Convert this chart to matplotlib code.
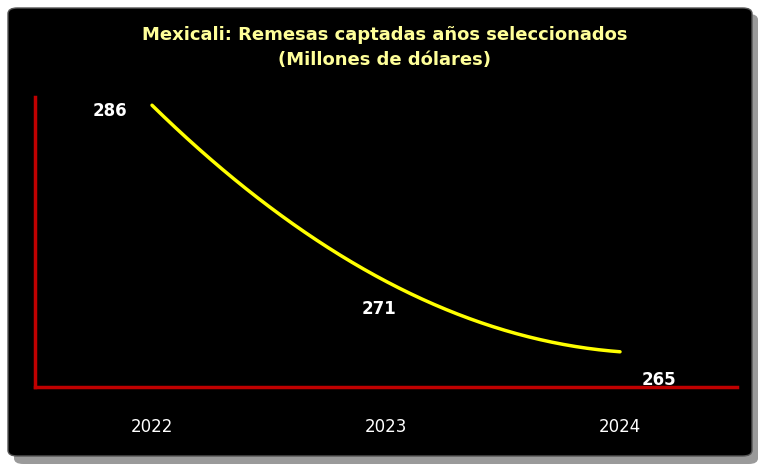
import matplotlib
matplotlib.use("Agg")
import matplotlib.pyplot as plt
import numpy as np
from matplotlib.patches import FancyBboxPatch

years = ["2022", "2023", "2024"]
values = [286, 271, 265]

fig = plt.figure(figsize=(7.7, 4.7), dpi=100)
fig.patch.set_facecolor("white")
shadow = FancyBboxPatch((14/770, 6/470), 744/770, 450/470, boxstyle="round,pad=0,rounding_size=0.012",
                        transform=fig.transFigure, facecolor="#9a9a9a", edgecolor="none", zorder=-3)
box = FancyBboxPatch((8/770, 14/470), 744/770, 448/470, boxstyle="round,pad=0,rounding_size=0.012",
                     transform=fig.transFigure, facecolor="black", edgecolor="#555555", lw=1, zorder=-2)
fig.patches.extend([shadow, box])

ax = fig.add_axes([35/770, 83/470, 702/770, 290/470])
ax.set_facecolor("none")
ax.set_zorder(5)
x = np.arange(len(values))
# smooth curve through the points (quadratic through 3 points)
coef = np.polyfit(x, values, 2)
xs = np.linspace(0, 2, 200)
ax.plot(xs, np.polyval(coef, xs), color="#FFFF00", lw=2.5, solid_capstyle="round")
ax.set_xlim(-0.5, 2.5)
ax.set_ylim(262, 286.7)
for s in ["top", "right"]:
    ax.spines[s].set_visible(False)
for s in ["left", "bottom"]:
    ax.spines[s].set_color("#C00000")
    ax.spines[s].set_linewidth(2.5)
ax.set_yticks([])
ax.set_xticks(x)
ax.set_xticklabels(years, color="white", fontsize=12)
ax.tick_params(axis="x", length=0, pad=22)
offsets = [(-30, -4), (-5, -20), (28, -20)]
for xi, v, (dx, dy) in zip(x, values, offsets):
    ax.annotate(str(v), (xi, v), xytext=(dx, dy), textcoords="offset points",
                ha="center", va="center", color="white", fontsize=12, fontweight="bold")

fig.text(0.5, 1 - 35/470, "Mexicali: Remesas captadas años seleccionados", ha="center", va="center",
         color="#FFFF99", fontsize=13, fontweight="bold")
fig.text(0.5, 1 - 60/470, "(Millones de dólares)", ha="center", va="center",
         color="#FFFF99", fontsize=13, fontweight="bold")
fig.savefig("out.png", dpi=100)
